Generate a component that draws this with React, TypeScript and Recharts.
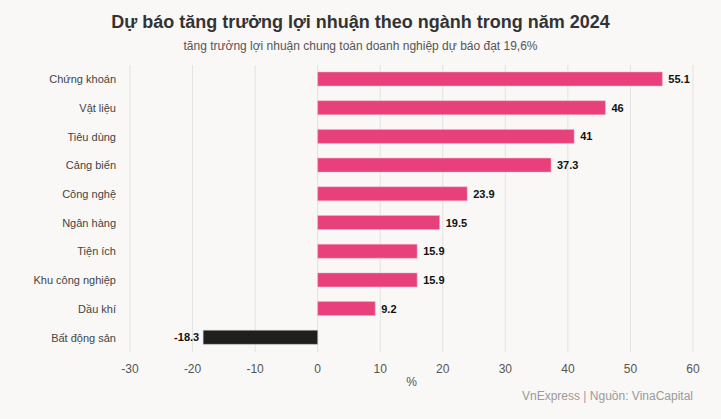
import React from "react";
import { BarChart, Bar, XAxis, YAxis, CartesianGrid, Cell, LabelList } from "recharts";

const categories = ["Chứng khoán", "Vật liệu", "Tiêu dùng", "Cảng biển", "Công nghệ", "Ngân hàng", "Tiện ích", "Khu công nghiệp", "Dầu khí", "Bất động sản"];
const values = [55.1, 46, 41, 37.3, 23.9, 19.5, 15.9, 15.9, 9.2, -18.3];
const xTicks = [-30, -20, -10, 0, 10, 20, 30, 40, 50, 60];

const data = categories.map((name, i) => ({ name, value: values[i] }));

const FONT = "Arial, 'Liberation Sans', sans-serif";

const renderLabel = (props: any) => {
  const { x, y, width, height, value } = props;
  const left = Math.min(x, x + width);
  const right = Math.max(x, x + width);
  const cy = y + height / 2;
  const pos = value >= 0;
  return (
    <text
      x={pos ? right + 6 : left - 4}
      y={cy}
      dy={4}
      textAnchor={pos ? "start" : "end"}
      fontSize={11}
      fontWeight="bold"
      fill="#111"
      fontFamily={FONT}
    >
      {value}
    </text>
  );
};

export default function App() {
  return (
    <div style={{ position: "fixed", left: 0, top: 0, width: 721, height: 419, background: "#f9f8f6", fontFamily: FONT }}>
      <div style={{ position: "absolute", top: 12, left: 0, width: 721, textAlign: "center", fontSize: 18, fontWeight: "bold", color: "#333" }}>
        Dự báo tăng trưởng lợi nhuận theo ngành trong năm 2024
      </div>
      <div style={{ position: "absolute", top: 39, left: 0, width: 721, textAlign: "center", fontSize: 12, color: "#555" }}>
        tăng trưởng lợi nhuận chung toàn doanh nghiệp dự báo đạt 19,6%
      </div>
      <div style={{ position: "absolute", top: 0, left: 0 }}>
        <BarChart
          width={721}
          height={419}
          data={data}
          layout="vertical"
          margin={{ top: 65, right: 28, bottom: 27, left: 0 }}
        >
          <CartesianGrid horizontal={false} vertical={true} stroke="#e2e2e2" />
          <XAxis
            type="number"
            domain={[-30, 60]}
            ticks={xTicks}
            axisLine={false}
            tickLine={false}
            tick={{ fontSize: 12, fill: "#555", fontFamily: FONT }}
            tickMargin={6}
            height={40}
            label={{ value: "%", position: "insideBottom", offset: 6, fontSize: 12, fill: "#555", fontFamily: FONT }}
          />
          <YAxis
            type="category"
            dataKey="name"
            width={130}
            axisLine={false}
            tickLine={false}
            tickMargin={8}
            tick={{ fontSize: 11, fill: "#444", fontFamily: FONT }}
          />
          <Bar dataKey="value" barSize={14} isAnimationActive={false}>
            {data.map((d, i) => (
              <Cell key={i} fill={d.value >= 0 ? "#e8407b" : "#1f1f1f"} stroke={d.value >= 0 ? "#f2b8cc" : "#bbbbbb"} strokeWidth={0.5} />
            ))}
            <LabelList dataKey="value" content={renderLabel} />
          </Bar>
        </BarChart>
      </div>
      <div style={{ position: "absolute", top: 389, right: 28, fontSize: 12, color: "#9a9a9a" }}>
        VnExpress | Nguồn: VinaCapital
      </div>
    </div>
  );
}
